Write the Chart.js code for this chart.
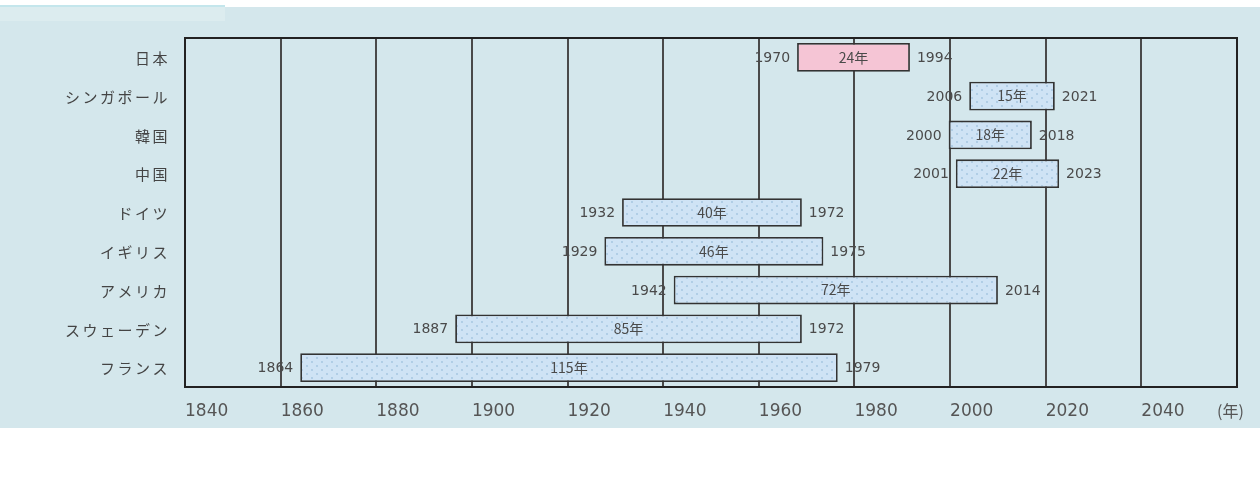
<!DOCTYPE html>
<html lang="ja">
<head>
<meta charset="utf-8">
<title>高齢化の進行速度</title>
<script src="https://cdn.jsdelivr.net/npm/chart.js@4.4.1/dist/chart.umd.min.js"></script>
<style>
  html, body { margin: 0; padding: 0; background: #ffffff; }
  #wrap { position: relative; width: 1260px; height: 485px; }
  #tab  { position: absolute; left: 0; top: 5px; width: 225px; height: 2px; background: #c4e6ec; }
  #panel { position: absolute; left: 0; top: 7px; width: 1260px; height: 421px; background: #d4e7ec; }
  #panel::before { content: ""; position: absolute; left: 0; top: 0; width: 225px; height: 14px; background: #dcecef; }
  canvas { position: absolute; left: 0; top: 0; }
</style>
</head>
<body>
<div id="wrap">
  <div id="tab"></div>
  <div id="panel"></div>
  <canvas id="grafico" width="1260" height="485"></canvas>
</div>
<script>
// ── Datos ──────────────────────────────────────────────
const paises = ["日本", "シンガポール", "韓国", "中国", "ドイツ", "イギリス", "アメリカ", "スウェーデン", "フランス"];
// posición de cada barra tal como está dibujada
const inicioBarra = [1968, 2004, 1999.7, 2001.2, 1931.4, 1927.7, 1942.2, 1896.5, 1864.1];
const finBarra    = [1991.6, 2021.9, 2017.1, 2022.8, 1969, 1973.5, 2010, 1969, 1976.5];
// textos de los extremos y de la duración
const anioInicio = ["1970", "2006", "2000", "2001", "1932", "1929", "1942", "1887", "1864"];
const anioFin    = ["1994", "2021", "2018", "2023", "1972", "1975", "2014", "1972", "1979"];
const duracion   = ["24年", "15年", "18年", "22年", "40年", "46年", "72年", "85年", "115年"];
const ejeMin = 1840, ejeMax = 2060, ejePaso = 20;
const unidadEje = "(年)";

// ── Relleno punteado de las barras ─────────────────────
function patronPuntos(fondo, punto) {
  const c = document.createElement("canvas");
  c.width = 10; c.height = 8;
  const g = c.getContext("2d");
  g.fillStyle = fondo;
  g.fillRect(0, 0, 10, 8);
  g.fillStyle = punto;
  g.beginPath(); g.arc(2, 2, 0.9, 0, Math.PI * 2); g.fill();
  g.beginPath(); g.arc(7, 6, 0.9, 0, Math.PI * 2); g.fill();
  return g.createPattern(c, "repeat");
}
const rellenoAzul = patronPuntos("#cfe3f5", "#a3c3df");
const rellenoRosa = "#f5c5d5";

const FUENTE_NUM = "'DejaVu Sans', 'Noto Sans CJK JP', sans-serif";
const FUENTE_JP  = "'Noto Sans CJK JP', sans-serif";

// ── Etiquetas de los países, marco y textos de las barras ──
const pluginTextos = {
  id: "textos",
  afterDraw(chart) {
    const { ctx, chartArea: a, scales: { x, y } } = chart;
    ctx.save();

    // marco del área
    ctx.strokeStyle = "#222";
    ctx.lineWidth = 2;
    ctx.strokeRect(a.left, a.top, a.right - a.left, a.bottom - a.top);

    // nombres de los países
    ctx.fillStyle = "#444";
    ctx.font = "15px " + FUENTE_JP;
    ctx.letterSpacing = "2.5px";
    ctx.textAlign = "right";
    ctx.textBaseline = "middle";
    paises.forEach((p, i) => ctx.fillText(p, a.left - 15, y.getPixelForValue(i) + 1));
    ctx.letterSpacing = "0px";

    // unidad del eje
    ctx.fillStyle = "#555";
    ctx.font = "16px " + FUENTE_JP;
    ctx.textAlign = "left";
    ctx.fillText(unidadEje, x.getPixelForValue(ejeMax) - 20, a.bottom + 24);

    // años y duración de cada barra
    const meta = chart.getDatasetMeta(0);
    meta.data.forEach((bar, i) => {
      const xi = Math.min(bar.x, bar.base), xf = Math.max(bar.x, bar.base);
      ctx.fillStyle = "#4a4a4a";
      ctx.font = "14px " + FUENTE_NUM;
      ctx.textAlign = "right";
      ctx.fillText(anioInicio[i], xi - 7, bar.y + 1);
      ctx.textAlign = "left";
      ctx.fillText(anioFin[i], xf + 7, bar.y + 1);
      ctx.textAlign = "center";
      ctx.font = "14px " + FUENTE_JP;
      ctx.fillText(duracion[i], (xi + xf) / 2, bar.y);
    });
    ctx.restore();
  }
};

new Chart(document.getElementById("grafico"), {
  type: "bar",
  data: {
    labels: paises,
    datasets: [{
      data: paises.map((_, i) => [inicioBarra[i], finBarra[i]]),
      backgroundColor: paises.map((_, i) => i === 0 ? rellenoRosa : rellenoAzul),
      borderColor: "#333",
      borderWidth: 1.8,
      borderSkipped: false,
      barPercentage: 0.74,
      categoryPercentage: 1
    }]
  },
  options: {
    indexAxis: "y",
    responsive: false,
    animation: false,
    events: [],
    layout: { padding: { left: 185, right: 23, top: 38, bottom: 0 } },
    plugins: { legend: { display: false }, tooltip: { enabled: false } },
    scales: {
      y: { display: false },
      x: {
        type: "linear",
        min: ejeMin,
        max: ejeMax,
        border: { display: false },
        grid: { color: "#4a4a4a", lineWidth: 2, drawTicks: false },
        ticks: {
          stepSize: ejePaso,
          autoSkip: false,
          align: "start",
          padding: 14,
          color: "#555",
          font: { family: FUENTE_NUM, size: 17 },
          callback: (v) => v === ejeMax ? "" : String(v)
        },
        afterFit: (s) => { s.height = 98; }
      }
    }
  },
  plugins: [pluginTextos]
});
</script>
</body>
</html>
